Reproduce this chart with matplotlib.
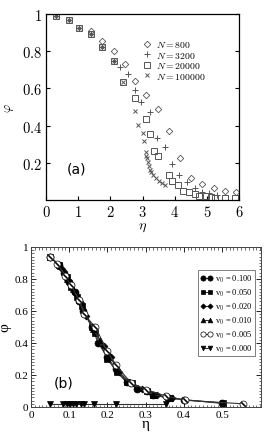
import matplotlib
matplotlib.use("Agg")
import matplotlib.pyplot as plt
from matplotlib.ticker import FixedLocator, MultipleLocator, FuncFormatter

plt.rcParams["mathtext.fontset"] = "cm"

# ---- panel (a): phi vs eta for several system sizes
eta_800 = [1.39, 1.75, 2.10, 2.45, 2.78, 3.12, 3.47, 3.82, 4.17, 4.51, 4.86, 5.21, 5.57, 5.90]
phi_800 = [0.91, 0.857, 0.80, 0.73, 0.64, 0.563, 0.489, 0.371, 0.224, 0.118, 0.084, 0.065, 0.047, 0.041]

eta_3200 = [0.32, 0.70, 1.03, 1.39, 1.75, 2.10, 2.30, 2.55, 2.76, 2.96, 3.22, 3.45, 3.70, 3.93,
            4.15, 4.39, 4.62, 4.86, 5.08, 5.31]
phi_3200 = [0.99, 0.97, 0.925, 0.895, 0.82, 0.745, 0.713, 0.677, 0.593, 0.528, 0.471, 0.335, 0.285,
            0.195, 0.136, 0.095, 0.066, 0.045, 0.036, 0.027]

eta_20000 = [0.32, 0.70, 1.03, 1.39, 1.75, 2.10, 2.40, 2.76, 3.10, 3.22, 3.35, 3.48, 3.82, 3.93,
             4.10, 4.25, 4.46, 4.62, 4.77, 4.98, 5.13, 5.25, 5.55, 5.89]
phi_20000 = [0.99, 0.97, 0.925, 0.895, 0.82, 0.745, 0.636, 0.548, 0.435, 0.355, 0.265, 0.235, 0.134,
             0.10, 0.081, 0.05, 0.041, 0.032, 0.024, 0.02, 0.015, 0.013, 0.011, 0.011]

eta_100000 = [0.32, 0.70, 1.03, 1.39, 1.75, 2.10, 2.40, 2.77, 2.87, 3.00, 3.05, 3.10, 3.12, 3.14,
              3.16, 3.19, 3.22, 3.27, 3.33, 3.41, 3.51, 3.62, 3.69]
phi_100000 = [0.99, 0.97, 0.925, 0.895, 0.82, 0.745, 0.636, 0.478, 0.405, 0.358, 0.315, 0.256, 0.235,
              0.224, 0.206, 0.184, 0.163, 0.149, 0.134, 0.118, 0.104, 0.091, 0.081]

# ---- panel (b): phi vs eta for several v0
eta_v100 = [0.05, 0.072, 0.086, 0.10, 0.115, 0.126, 0.137, 0.159, 0.176, 0.20, 0.222, 0.25, 0.277,
            0.303, 0.32, 0.355, 0.40, 0.50]
phi_v100 = [0.94, 0.89, 0.84, 0.78, 0.72, 0.66, 0.60, 0.50, 0.40, 0.31, 0.24, 0.155, 0.115, 0.10,
            0.075, 0.06, 0.045, 0.025]

eta_v050 = [0.05, 0.072, 0.093, 0.106, 0.12, 0.133, 0.16, 0.168, 0.20, 0.224, 0.25, 0.264, 0.303,
            0.32, 0.364, 0.503]
phi_v050 = [0.94, 0.89, 0.81, 0.75, 0.69, 0.63, 0.50, 0.46, 0.30, 0.22, 0.155, 0.15, 0.10, 0.075,
            0.054, 0.022]

eta_v020 = [0.05, 0.08, 0.10, 0.115, 0.13, 0.145, 0.165, 0.19, 0.21, 0.23, 0.26, 0.29, 0.33, 0.37]
phi_v020 = [0.94, 0.86, 0.78, 0.71, 0.65, 0.57, 0.48, 0.38, 0.31, 0.22, 0.15, 0.11, 0.075, 0.055]

eta_v010 = [0.05, 0.075, 0.095, 0.11, 0.125, 0.14, 0.162, 0.18, 0.205, 0.225, 0.255, 0.28, 0.32, 0.36]
phi_v010 = [0.94, 0.88, 0.80, 0.74, 0.67, 0.59, 0.49, 0.42, 0.33, 0.23, 0.155, 0.12, 0.077, 0.056]

eta_v005 = [0.05, 0.069, 0.089, 0.105, 0.126, 0.139, 0.168, 0.20, 0.223, 0.261, 0.302, 0.353, 0.404, 0.555]
phi_v005 = [0.94, 0.896, 0.82, 0.76, 0.667, 0.58, 0.50, 0.35, 0.26, 0.152, 0.108, 0.069, 0.042, 0.02]

eta_v000 = [0.05, 0.085, 0.093, 0.102, 0.11, 0.119, 0.13, 0.14, 0.165, 0.223, 0.353]
phi_v000 = [0.02, 0.02, 0.02, 0.02, 0.02, 0.02, 0.02, 0.02, 0.02, 0.02, 0.02]

fig = plt.figure(figsize=(2.66, 4.39), dpi=100)

# ---------------- (a)
ax = fig.add_axes([46 / 266, 1 - 201 / 439, 193 / 266, 186 / 439])
gray = "#555555"
ax.plot(eta_800, phi_800, ls="none", marker="D", ms=3.3, mfc="none", mec=gray, mew=0.6, label=r"$N = 800$")
ax.plot(eta_3200, phi_3200, ls="none", marker="+", ms=5, mec=gray, mew=0.7, label=r"$N = 3200$")
ax.plot(eta_20000, phi_20000, ls="none", marker="s", ms=4, mfc="none", mec=gray, mew=0.7, label=r"$N = 20000$")
ax.plot(eta_100000, phi_100000, ls="none", marker="x", ms=3.5, mec=gray, mew=0.7, label=r"$N = 100000$")
ax.set_xlim(0, 6)
ax.set_ylim(0, 1)
ax.xaxis.set_major_locator(MultipleLocator(1))
ax.yaxis.set_major_locator(FixedLocator([0.2, 0.4, 0.6, 0.8, 1.0]))
ax.xaxis.set_major_formatter(FuncFormatter(lambda v, p: r"$%d$" % v))
ax.yaxis.set_major_formatter(FuncFormatter(lambda v, p: r"$1$" if v > 0.99 else r"$%.1f$" % v))
ax.tick_params(direction="in", length=3, width=0.8, labelsize=10.5, top=False, right=True, pad=3)
for s in ax.spines.values():
    s.set_linewidth(0.9)
ax.set_xlabel(r"$\eta$", fontsize=10, labelpad=0)
ax.set_ylabel(r"$\varphi$", fontsize=9, labelpad=4)
ax.text(0.11, 0.15, "(a)", transform=ax.transAxes, fontsize=10, family="DejaVu Sans")
ax.legend(loc="upper right", bbox_to_anchor=(0.86, 0.9), frameon=False, fontsize=7,
          handletextpad=0.3, labelspacing=0.05, handlelength=1.2, borderpad=0.2)

# ---------------- (b)
bx = fig.add_axes([31 / 266, 1 - 408 / 439, 230 / 266, 160 / 439])
lc = "#333333"
kw = dict(color=lc, lw=0.8, mec="black", mew=0.5)
bx.plot(eta_v100, phi_v100, marker="o", ms=5, mfc="black", label=r"v$_0$ = 0.100", **kw)
bx.plot(eta_v050, phi_v050, marker="s", ms=4.5, mfc="black", label=r"v$_0$ = 0.050", **kw)
bx.plot(eta_v020, phi_v020, marker="D", ms=3.5, mfc="black", label=r"v$_0$ = 0.020", **kw)
bx.plot(eta_v010, phi_v010, marker="^", ms=4.5, mfc="black", label=r"v$_0$ = 0.010", **kw)
bx.plot(eta_v005, phi_v005, marker="o", ms=5, mfc="white", label=r"v$_0$ = 0.005", **kw)
bx.plot(eta_v005, phi_v005, ls="none", marker=(2, 2, 45), ms=4, mec="black", mew=0.8)
bx.plot(eta_v000, phi_v000, marker="v", ms=4.5, mfc="black", label=r"v$_0$ = 0.000", **kw)
bx.set_xlim(0, 0.602)
bx.set_ylim(0, 1)
bx.xaxis.set_major_locator(FixedLocator([0, 0.1, 0.2, 0.3, 0.4, 0.5]))
bx.xaxis.set_minor_locator(MultipleLocator(0.01))
bx.yaxis.set_major_locator(MultipleLocator(0.2))
bx.yaxis.set_minor_locator(MultipleLocator(0.02))
bx.xaxis.set_major_formatter(FuncFormatter(lambda v, p: "0" if abs(v) < 1e-9 else "%.1f" % v))
bx.yaxis.set_major_formatter(FuncFormatter(lambda v, p: "0" if abs(v) < 1e-9 else ("1" if v > 0.99 else "%.1f" % v)))
for t in bx.get_xticklabels() + bx.get_yticklabels():
    t.set_family("Liberation Serif")
bx.tick_params(which="both", direction="in", top=True, right=True, labelsize=8, pad=2)
bx.tick_params(which="major", length=3.5, width=0.6)
bx.tick_params(which="minor", length=1.8, width=0.4)
for s in bx.spines.values():
    s.set_linewidth(0.7)
    s.set_color("#444444")
bx.set_xlabel("η", fontsize=11, family="Liberation Serif", labelpad=-1)
bx.set_ylabel("φ", fontsize=11, family="Liberation Serif", labelpad=2)
bx.text(0.1, 0.13, "(b)", transform=bx.transAxes, fontsize=10, family="DejaVu Sans")
leg = bx.legend(loc="upper right", bbox_to_anchor=(0.99, 0.88), numpoints=2, markerscale=0.75,
                handlelength=1.4, handletextpad=0.3, labelspacing=0.3, borderpad=0.3,
                fancybox=False, edgecolor="#444444", prop={"family": "Liberation Serif", "size": 6})
leg.get_frame().set_linewidth(0.6)

fig.savefig("out.png", dpi=100)
